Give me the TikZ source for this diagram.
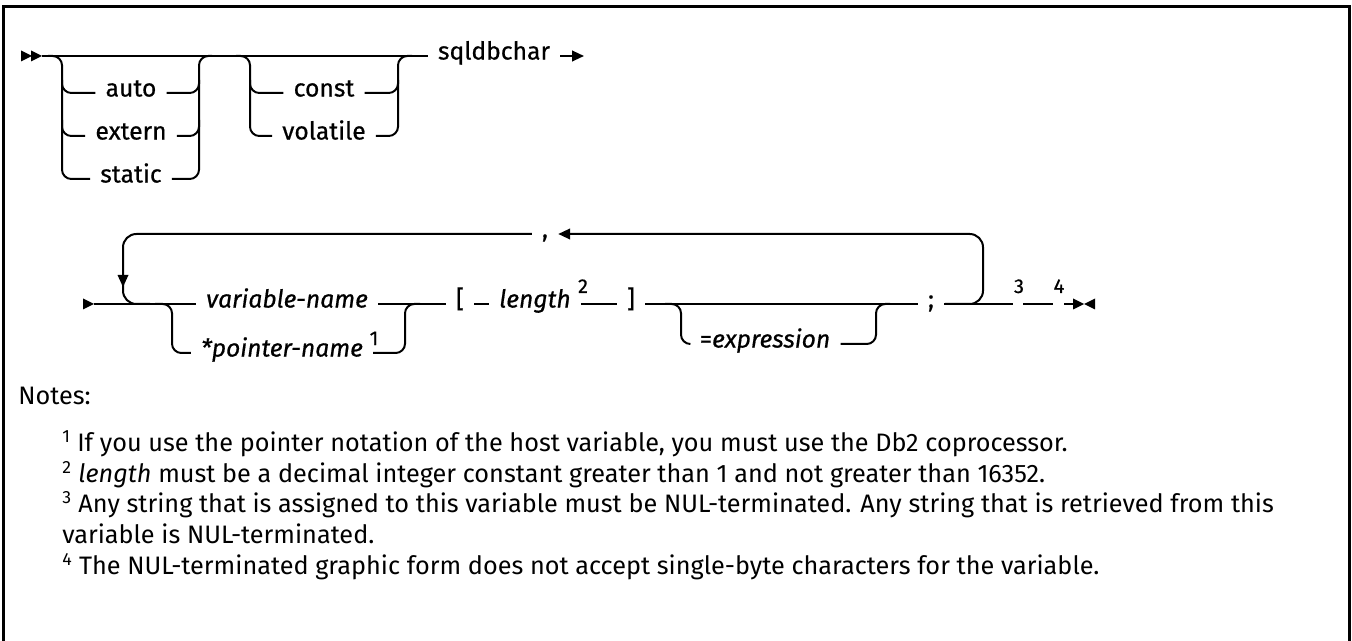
\documentclass[tikz,border=0pt]{standalone}
\usepackage{fontspec}
\setmainfont{Fira Sans}
\newfontfamily\labfont{Fira Sans}[FakeBold=0.6]
\usetikzlibrary{arrows.meta}
\tikzset{
  ln/.style={line width=1.5pt},
  rr/.style={line width=1.5pt, rounded corners=7pt},
  loopline/.style={line width=1.5pt, rounded corners=10pt},
  lab/.style={font=\labfont\fontsize{18.5}{22}\selectfont, inner xsep=7.5pt, inner ysep=1pt, anchor=mid},
  itlab/.style={lab, font=\labfont\fontsize{18.5}{22}\selectfont\itshape},
  supnum/.style={font=\labfont\fontsize{15}{17}\selectfont, inner sep=0pt, anchor=base},
  note/.style={font=\fontsize{18.95}{23.25}\selectfont, inner sep=0pt, anchor=base west},
  trir/.pic={\fill (0,0) -- (-11,-5.5) -- (-11,5.5) -- cycle;},
  tril/.pic={\fill (0,0) -- (11,-5.5) -- (11,5.5) -- cycle;},
  trid/.pic={\fill (0,0) -- (-5.5,-12) -- (5.5,-12) -- cycle;},
}
\begin{document}
\begin{tikzpicture}[x=0.75pt,y=-0.75pt]
\useasboundingbox (0,0) rectangle (1352,641);
\draw[line width=2.25pt] (3.5,641) -- (3.5,7) -- (1349.5,7) -- (1349.5,641);

% ---------- row 1 ----------
\coordinate (s1) at (42,56);
\pic at (32,56) {trir};
\pic at (42,56) {trir};
\node[lab] (sq) at (494,56) {sqldbchar};
\coordinate (e1) at (584,56);
\draw[ln] (s1) -- (sq.mid west);
\draw[ln,-{Triangle[length=9pt,width=8pt]}] (sq.mid east) -- (e1);

% group 1
\node[lab] (auto) at (131,93) {auto};
\node[lab] (extern) at (131,136) {extern};
\node[lab] (static) at (131,179) {static};
\draw[rr] (48,56) -| (62,93) -- (auto.mid west);
\draw[rr] (62,80) |- (extern.mid west);
\draw[rr] (62,120) |- (static.mid west);
\draw[rr] (auto.mid east) -| (199,56) -- (212,56);
\draw[rr] (extern.mid east) -| (199,80);
\draw[rr] (static.mid east) -| (199,120);

% group 2
\node[lab] (const) at (324,93) {const};
\node[lab] (volatile) at (324,136) {volatile};
\draw[rr] (236,56) -| (250,93) -- (const.mid west);
\draw[rr] (250,80) |- (volatile.mid west);
\draw[rr] (const.mid east) -| (398,56) -- (412,56);
\draw[rr] (volatile.mid east) -| (398,80);

% ---------- row 2 ----------
\coordinate (s2) at (94,304);
\pic at (94,304) {trir};
\node[itlab] (vn) at (287,304) {variable-name};
\node[itlab] (pn) at (282,353) {*pointer-name};
\node[supnum] (n1) at (374,345) {1};
\draw[ln] (s2) -- (vn.mid west);
\draw[rr] (155,304) -| (172,353) -- (pn.mid west);
\draw[rr] (pn.mid east) -| (405,304) -- (420,304);

\node[lab] (lb) at (460,304) {[};
\node[itlab] (len) at (535,304) {length};
\node[supnum] (n2) at (583,293) {2};
\node[lab] (rb) at (631,304) {]};
\draw[ln] (vn.mid east) -- (lb.mid west);
\draw[ln] (lb.mid east) -- (len.mid west);
\draw[ln] (len.mid east) -- (rb.mid west);

\node[lab] (ex) at (765,344) {=\textit{expression}};
\node[lab] (semi) at (931,304) {;};
\draw[ln] (rb.mid east) -- (semi.mid west);
\draw[rr] (665,304) -| (681,344) -- (ex.mid west);
\draw[rr] (ex.mid east) -| (876,304) -- (890,304);

% repeat loop
\node[lab] (comma) at (545,234) {,};
\draw[loopline] (comma.mid west) -| (123,304) -- (150,304);
\pic at (123,287) {trid};
\draw[loopline,-{Triangle[length=9pt,width=8pt]}] (945,304) -| (983,234) -- (comma.mid east);

% end
\coordinate (g1) at (1013,304);
\coordinate (g2) at (1023,304);
\coordinate (g3) at (1053,304);
\coordinate (g4) at (1064,304);
\coordinate (g5) at (1074,304);
\node[supnum] (n3) at (1019,293) {3};
\node[supnum] (n4) at (1059,293) {4};
\draw[ln] (semi.mid east) -- (g1);
\draw[ln] (g2) -- (g3);
\draw[ln] (g4) -- (g5);
\pic at (1084,304) {trir};
\pic at (1084,304) {tril};

% ---------- notes ----------
\node[note] (nh) at (18,404) {Notes:};
\node[note] (nt1) at (62,451) {\textsuperscript{1} If you use the pointer notation of the host variable, you must use the Db2 coprocessor.};
\node[note] (nt2) at (62,482) {\textsuperscript{2} \textit{length} must be a decimal integer constant greater than 1 and not greater than 16352.};
\node[note] (nt3) at (62,512) {\textsuperscript{3} Any string that is assigned to this variable must be NUL-terminated. Any string that is retrieved from this};
\node[note] (nt3b) at (62,543) {variable is NUL-terminated.};
\node[note] (nt4) at (62,574) {\textsuperscript{4} The NUL-terminated graphic form does not accept single-byte characters for the variable.};
\end{tikzpicture}
\end{document}
